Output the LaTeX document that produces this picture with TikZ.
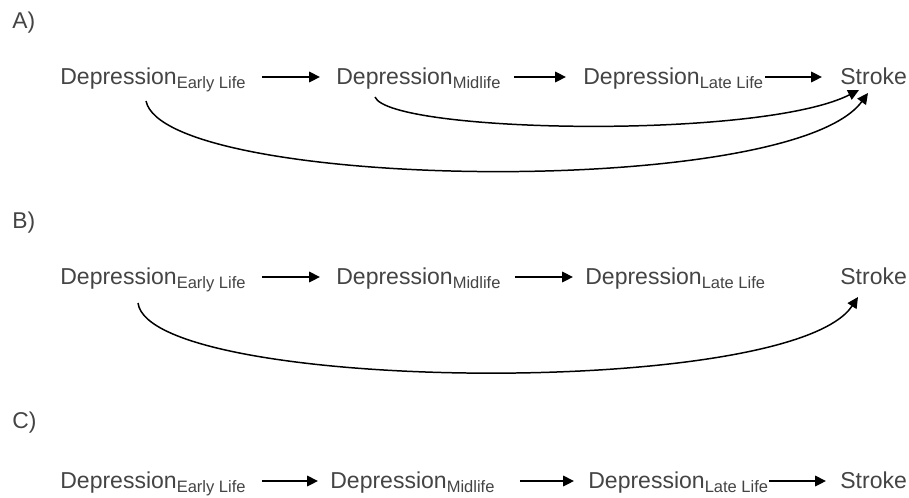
\documentclass[tikz,border=0pt]{standalone}
\usepackage{fontspec}
\setmainfont{Liberation Sans}
\usetikzlibrary{arrows.meta}
\definecolor{txtgray}{HTML}{444444}
\newcommand{\lifestage}[1]{\raisebox{-1.8pt}{\fontsize{9.4}{11}\selectfont #1}}

\begin{document}
\begin{tikzpicture}
[x=0.02cm, y=-0.02cm,
stage/.style={anchor=west, inner sep=0pt, text height=10pt, text depth=1pt, text=txtgray, font=\fontsize{13.1}{15}\selectfont},
panel/.style={anchor=north west, inner sep=0pt, text=txtgray, font=\fontsize{13}{15}\selectfont},
arr/.style={-{Triangle[length=6.2pt,width=6pt]}, line width=0.85pt, black}]
\useasboundingbox (0,0) rectangle (909,497);
\node[panel] (pa) at (12,12) {A)};
\node[panel] (pb) at (12,212) {B)};
\node[panel] (pc) at (12,412) {C)};
\node[stage] (a1) at (60,77) {Depression\lifestage{Early Life}};
\node[stage] (a2) at (336,77) {Depression\lifestage{Midlife}};
\node[stage] (a3) at (583,77) {Depression\lifestage{Late Life}};
\node[stage] (a4) at (840,77) {Stroke};
\node[stage] (b1) at (60,277) {Depression\lifestage{Early Life}};
\node[stage] (b2) at (336,277) {Depression\lifestage{Midlife}};
\node[stage] (b3) at (585,277) {Depression\lifestage{Late Life}};
\node[stage] (b4) at (840,277) {Stroke};
\node[stage] (c1) at (60,481) {Depression\lifestage{Early Life}};
\node[stage] (c2) at (330,481) {Depression\lifestage{Midlife}};
\node[stage] (c3) at (588,481) {Depression\lifestage{Late Life}};
\node[stage] (c4) at (840,481) {Stroke};
\draw[arr] ([shift={(16,0)}]a1.east) -- ([shift={(-16,0)}]a2.west);
\draw[arr] ([shift={(13,0)}]a2.east) -- ([shift={(-17,0)}]a3.west);
\draw[arr] ([shift={(2,0)}]a3.east) -- ([shift={(-18,0)}]a4.west);
\draw[arr] ([shift={(39,10)}]a2.south west) .. controls (390,133) and (760,140) .. ([shift={(19,3)}]a4.south west);
\draw[arr] ([shift={(86,14)}]a1.south west) .. controls (165,190) and (790,200) .. ([shift={(28,6)}]a4.south west);
\draw[arr] ([shift={(16,0)}]b1.east) -- ([shift={(-16,0)}]b2.west);
\draw[arr] ([shift={(14,0)}]b2.east) -- ([shift={(-12,0)}]b3.west);
\draw[arr] ([shift={(78,16)}]b1.south west) .. controls (150,392) and (790,400) .. ([shift={(18,10)}]b4.south west);
\draw[arr] ([shift={(16,0)}]c1.east) -- ([shift={(-12,0)}]c2.west);
\draw[arr] ([shift={(25,0)}]c2.east) -- ([shift={(-14,0)}]c3.west);
\draw[arr] ([shift={(1,0)}]c3.east) -- ([shift={(-14,0)}]c4.west);
\end{tikzpicture}
\end{document}
